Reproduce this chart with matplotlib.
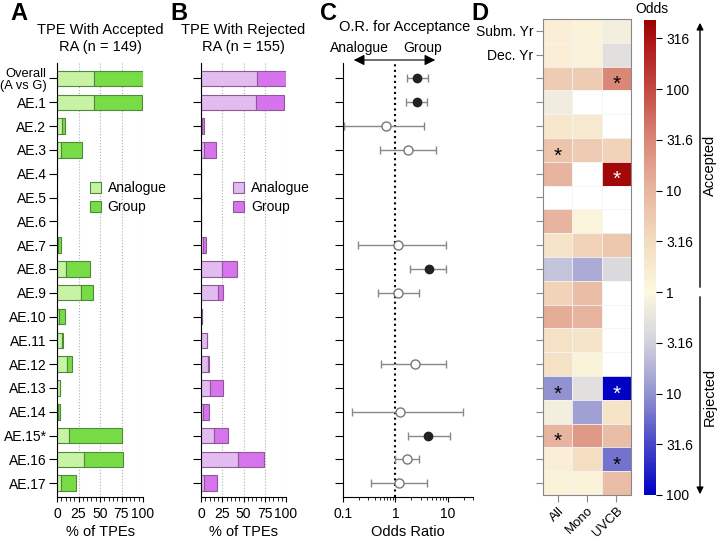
import numpy as np
import matplotlib
matplotlib.use("Agg")
import matplotlib.pyplot as plt
from matplotlib.colors import LinearSegmentedColormap
from matplotlib.ticker import MultipleLocator

plt.rcParams['font.family'] = ['Liberation Sans', 'DejaVu Sans']
plt.rcParams['font.size'] = 10

rows = ["Overall\n(A vs G)", "AE.1", "AE.2", "AE.3", "AE.4", "AE.5", "AE.6", "AE.7", "AE.8",
        "AE.9", "AE.10", "AE.11", "AE.12", "AE.13", "AE.14", "AE.15*", "AE.16", "AE.17"]

# % of TPEs, accepted RA
acc_analogue = [43, 42.6, 5.8, 4.3, 0, 0, 0, 1.5, 10, 27.5, 2.3, 6.0, 11.2, 3.5, 0.8, 13.6, 31.8, 4.3]
acc_group = [57, 56.4, 3.9, 24.4, 0, 0, 0, 2.8, 28.4, 14.4, 7.4, 0.6, 6.2, 0, 2.7, 62.0, 45.3, 17.7]
# % of TPEs, rejected RA
rej_analogue = [66.4, 64.5, 1.3, 3.1, 0, 0, 0, 2.0, 24.2, 19.5, 0.6, 6.6, 8.4, 10.2, 2.0, 14.8, 43.8, 3.5]
rej_group = [33.6, 33.2, 2.6, 14.1, 0, 0, 0, 3.9, 18.4, 5.9, 0, 0, 1.0, 15.2, 7.4, 16.8, 30.0, 15.3]

# odds ratio for acceptance (NaN = not estimated)
or_est = [2.6, 2.53, 0.67, 1.73, np.nan, np.nan, np.nan, 1.1, 4.28, 1.13, np.nan, np.nan, 2.32, np.nan, 1.24, 4.16, 1.68, 1.15]
or_lo = [1.66, 1.56, 0.106, 0.50, np.nan, np.nan, np.nan, 0.19, 1.92, 0.457, np.nan, np.nan, 0.52, np.nan, 0.146, 1.71, 0.98, 0.34]
or_hi = [4.16, 3.98, 3.44, 5.8, np.nan, np.nan, np.nan, 9.0, 9.0, 2.84, np.nan, np.nan, 9.0, np.nan, 19.3, 11.1, 2.84, 3.93]
or_sig = [1, 1, 0, 0, 0, 0, 0, 0, 1, 0, 0, 0, 0, 0, 0, 1, 0, 0]

# heatmap: log10 odds (+ accepted, - rejected)
hm_cols = ["All", "Mono", "UVCB"]
hm_rows = ["Subm. Yr", "Dec. Yr"] + [""] * 18
hm_vals = np.array([
    [0.15, 0.1, -0.1],
    [0.15, 0.1, -0.3],
    [0.7, 0.7, 1.5],
    [-0.15, np.nan, np.nan],
    [0.3, 0.25, np.nan],
    [0.8, 0.7, 0.6],
    [1.0, np.nan, 2.6],
    [np.nan, np.nan, np.nan],
    [1.0, 0.05, np.nan],
    [0.35, 0.6, 0.75],
    [-0.6, -0.8, -0.4],
    [0.6, 0.9, np.nan],
    [1.1, 1.0, np.nan],
    [0.4, 0.35, np.nan],
    [0.4, 0.1, np.nan],
    [-1.0, -0.3, -2.0],
    [-0.1, -0.9, 0.35],
    [1.0, 1.3, 0.9],
    [0.15, 0.45, -1.2],
    [0.1, 0.1, 0.9],
])
hm_star = [(2, 2), (5, 0), (6, 2), (15, 0), (15, 2), (17, 0), (18, 2)]

W, H = 720, 540
fig = plt.figure(figsize=(7.2, 5.4), dpi=100)

def px_axes(l, t, r, b):
    return fig.add_axes([l / W, 1 - b / H, (r - l) / W, (b - t) / H])

y = np.arange(len(rows))
ylim = (17.58, -0.65)

def bar_panel(ax, a, g, ca, cg, ec, title, show_labels):
    ax.barh(y, a, height=0.65, color=ca, edgecolor=ec, linewidth=0.8, label="Analogue")
    ax.barh(y, g, left=a, height=0.65, color=cg, edgecolor=ec, linewidth=0.8, label="Group")
    ax.set_xlim(0, 100)
    ax.set_ylim(*ylim)
    ax.set_yticks(y)
    ax.set_yticklabels(rows if show_labels else [""] * len(rows), fontsize=10, linespacing=0.95)
    ax.get_yticklabels()[0].set_fontsize(9.3)
    ax.set_xticks([0, 25, 50, 75, 100])
    ax.xaxis.set_minor_locator(MultipleLocator(5))
    ax.grid(axis='x', linestyle=':', color='#b0b0b0', linewidth=0.8)
    ax.set_axisbelow(True)
    for s in ['top', 'right']:
        ax.spines[s].set_visible(False)
    ax.tick_params(axis='y', length=6, pad=1.5)
    ax.tick_params(axis='x', which='minor', length=3)
    ax.set_xlabel("% of TPEs", fontsize=10.5, labelpad=3)
    ax.set_title(title, fontsize=10.5, pad=9)
    ax.legend(loc='upper left', bbox_to_anchor=(0.38, 0.727), frameon=False, fontsize=10,
              handlelength=0.8, handleheight=0.8, handletextpad=0.5, borderaxespad=0,
              borderpad=0, labelspacing=0.35)

axA = px_axes(57, 63, 143, 497)
bar_panel(axA, acc_analogue, acc_group, "#c8f2a4", "#78dc46", "#4f8a3a",
          "TPE With Accepted\nRA (n = 149)", True)
axB = px_axes(201, 63, 286, 497)
bar_panel(axB, rej_analogue, rej_group, "#e2bcee", "#d873ee", "#8c5a98",
          "TPE With Rejected\nRA (n = 155)", False)

# panel C
axC = px_axes(343, 63, 473, 497)
axC.set_xscale('log')
axC.set_xlim(0.1, 30)
axC.set_ylim(*ylim)
axC.axvline(1, color='black', linestyle=':', linewidth=1.5, zorder=1)
for i in range(len(rows)):
    if np.isnan(or_est[i]):
        continue
    axC.errorbar(or_est[i], i, xerr=[[or_est[i] - or_lo[i]], [or_hi[i] - or_est[i]]],
                 fmt='none', ecolor='#888888', elinewidth=1, capsize=3, zorder=2)
    if or_sig[i]:
        axC.plot(or_est[i], i, 'o', color='#222222', markersize=6, zorder=3)
    else:
        axC.plot(or_est[i], i, 'o', markerfacecolor='white', markeredgecolor='#777777',
                 markeredgewidth=1, markersize=6.5, zorder=3)
axC.set_yticks(y)
axC.set_yticklabels([""] * len(rows))
axC.set_xticks([0.1, 1, 10])
axC.set_xticklabels(["0.1", "1", "10"])
for s in ['top', 'right']:
    axC.spines[s].set_visible(False)
axC.tick_params(axis='y', length=6)
axC.set_xlabel("Odds Ratio", fontsize=10.5, labelpad=3)
fig.text(405 / W, 1 - 27 / H, "O.R. for Acceptance", ha='center', va='center', fontsize=10.5)
fig.text(359 / W, 1 - 48 / H, "Analogue", ha='center', va='center', fontsize=10)
fig.text(423 / W, 1 - 48 / H, "Group", ha='center', va='center', fontsize=10)
fig.patches.append(matplotlib.patches.FancyArrowPatch(
    (351 / W, 1 - 60 / H), (438 / W, 1 - 60 / H), transform=fig.transFigure,
    arrowstyle='<|-|>', mutation_scale=16, color='black', linewidth=0.8))

# panel D
cmap = LinearSegmentedColormap.from_list("odds", [
    (0.0, "#0000c4"),
    (0.5 / 4.68, "#4848c8"),
    (1.0 / 4.68, "#9494d2"),
    (1.5 / 4.68, "#d2d2de"),
    (2.0 / 4.68, "#fdf8e0"),
    (2.5 / 4.68, "#f3dcc0"),
    (3.0 / 4.68, "#e8b6a0"),
    (3.5 / 4.68, "#da8878"),
    (4.0 / 4.68, "#c24a42"),
    (4.5 / 4.68, "#ac1414"),
    (1.0, "#9c0000"),
])
cmap.set_bad("white")
axD = px_axes(543, 19, 631, 495)
im = axD.imshow(np.ma.masked_invalid(hm_vals), cmap=cmap, vmin=-2, vmax=2.68, aspect='auto')
for k in range(1, 3):
    axD.axvline(k - 0.5, color='#f4f4f4', linewidth=0.6)
for k in range(1, 20):
    axD.axhline(k - 0.5, color='#f4f4f4', linewidth=0.6)
for (r, c) in hm_star:
    v = hm_vals[r, c]
    col = 'white' if abs(v) > 1.8 else 'black'
    axD.text(c, r + 0.25, "*", ha='center', va='center', fontsize=15, color=col)
axD.set_xticks(range(3))
axD.set_xticklabels(hm_cols, rotation=45, ha='right', rotation_mode='anchor', fontsize=9.5)
axD.set_yticks(range(20))
axD.set_yticklabels(hm_rows, fontsize=10)
axD.tick_params(length=5, color='#888888', pad=2)
for s in axD.spines.values():
    s.set_color('#888888')

cax = px_axes(644, 20, 656, 495)
cb = fig.colorbar(im, cax=cax)
cb.outline.set_visible(False)
cb.set_ticks([2.5, 2, 1.5, 1, 0.5, 0, -0.5, -1, -1.5, -2])
cb.set_ticklabels(["316", "100", "31.6", "10", "3.16", "1", "3.16", "10", "31.6", "100"])
cb.ax.tick_params(length=4, labelsize=10)
fig.text(652 / W, 1 - 9 / H, "Odds", ha='center', va='center', fontsize=10)

for y0, y1 in [(290, 20), (294, 497)]:
    fig.patches.append(matplotlib.patches.FancyArrowPatch(
        (700 / W, 1 - y0 / H), (700 / W, 1 - y1 / H), transform=fig.transFigure,
        arrowstyle='-|>', mutation_scale=10, color='black', linewidth=1))
fig.text(710 / W, 1 - 165 / H, "Accepted", rotation=90, ha='center', va='center', fontsize=10.5)
fig.text(710 / W, 1 - 397 / H, "Rejected", rotation=90, ha='center', va='center', fontsize=10.5)

for lab, xp in [("A", 10), ("B", 170), ("C", 320), ("D", 471)]:
    fig.text(xp / W, 1 - 13 / H, lab, fontsize=17, fontweight='bold', ha='left', va='center')

fig.savefig("out.png", dpi=100)
